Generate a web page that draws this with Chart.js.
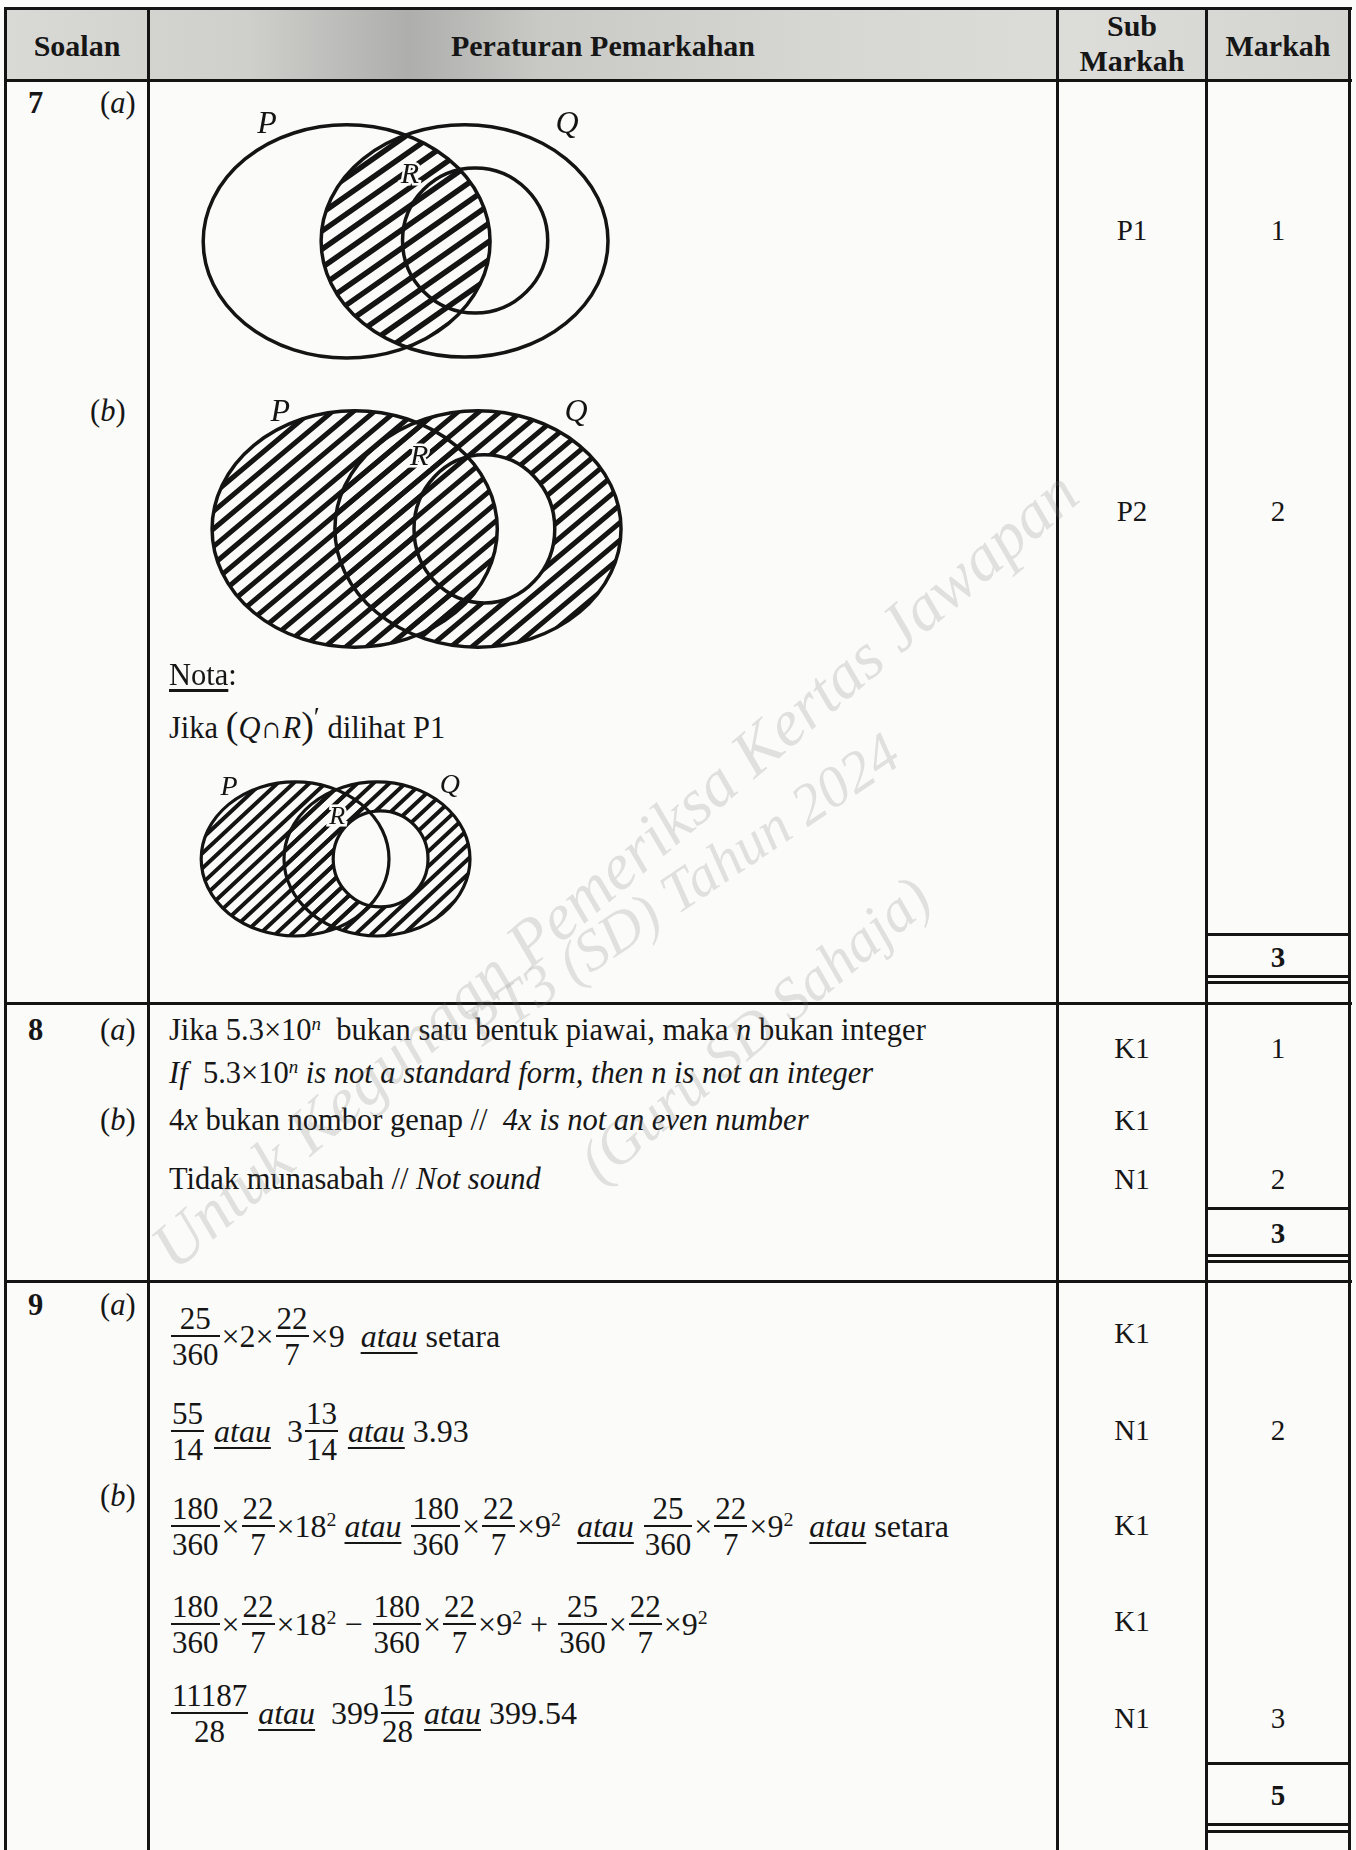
<!DOCTYPE html>
<html>
<head>
<meta charset="utf-8">
<script src="https://cdn.jsdelivr.net/npm/chart.js@4.4.1/dist/chart.umd.min.js"></script>
<style>
body { margin: 0; background: #fff; }
#page { position: relative; width: 1356px; height: 1850px; background: #fbfbf9; overflow: hidden;
  font-family: 'Liberation Serif', 'Times New Roman', serif; color: #161616; }
.hl { position: absolute; height: 3px; background: #141414; }
.vl { position: absolute; width: 3px; background: #141414; top: 7px; height: 1843px; }
.t { position: absolute; font-size: 30.5px; line-height: 34px; white-space: pre; }
.m { position: absolute; font-size: 29px; line-height: 34px; text-align: center; }
.b { font-weight: bold; }
.hd { position: absolute; font-size: 30px; line-height: 34px; font-weight: bold; text-align: center; }
.line { position: absolute; left: 169px; height: 80px; display: flex; align-items: center; font-size: 32px; white-space: pre; }
.line > span { line-height: 34px; }
.fr { display: inline-flex; flex-direction: column; text-align: center; margin: 0 2px; }
.fr span { display: block; font-size: 31px; line-height: 29px; padding: 0 1px; }
.fr .n { padding-bottom: 2px; }
.fr .d { padding-top: 3px; }
.fr b { display: block; height: 2px; background: #161616; }
.u { font-style: italic; text-decoration: underline; text-decoration-thickness: 2px; text-underline-offset: 5px; }
sup { font-size: 62%; position: relative; top: -0.55em; vertical-align: 0; line-height: 0; }
canvas { position: absolute; }
.wm { position: absolute; font-family: 'Liberation Serif', serif; font-style: italic; color: rgba(120, 120, 120, 0.20);
  white-space: nowrap; transform-origin: center center; pointer-events: none; }
</style>
</head>
<body>
<div id="page">
  <div style="position:absolute;left:5px;top:9px;width:1345px;height:71px;
    background:linear-gradient(90deg,#d9d9d6 0%,#cfcfcc 18%,#aeaeac 30%,#c9c9c6 40%,#d6d6d3 60%,#dcdcd9 80%,#d3d3d0 100%);"></div>

  <div class="hl" style="left:4px;top:7px;width:1348px"></div>
  <div class="hl" style="left:4px;top:79px;width:1348px"></div>
  <div class="hl" style="left:4px;top:1002px;width:1348px"></div>
  <div class="hl" style="left:4px;top:1280px;width:1348px"></div>
  <div class="vl" style="left:4px"></div>
  <div class="vl" style="left:147px"></div>
  <div class="vl" style="left:1056px"></div>
  <div class="vl" style="left:1205px"></div>
  <div class="vl" style="left:1348px"></div>

  <div class="hl" style="left:1205px;top:933px;width:146px"></div>
  <div class="hl" style="left:1205px;top:975px;width:146px"></div>
  <div class="hl" style="left:1205px;top:981px;width:146px"></div>
  <div class="hl" style="left:1205px;top:1207px;width:146px"></div>
  <div class="hl" style="left:1205px;top:1254px;width:146px"></div>
  <div class="hl" style="left:1205px;top:1260px;width:146px"></div>
  <div class="hl" style="left:1205px;top:1762px;width:146px"></div>
  <div class="hl" style="left:1205px;top:1823px;width:146px"></div>
  <div class="hl" style="left:1205px;top:1830px;width:146px"></div>

  <div class="hd" style="left:7px;width:140px;top:29px">Soalan</div>
  <div class="hd" style="left:150px;width:906px;top:29px">Peraturan Pemarkahan</div>
  <div class="hd" style="left:1059px;width:146px;top:9px">Sub</div>
  <div class="hd" style="left:1059px;width:146px;top:44px">Markah</div>
  <div class="hd" style="left:1208px;width:140px;top:29px">Markah</div>

  <!-- 7 -->
  <div class="t b" style="left:28px;top:86px">7</div>
  <div class="t" style="left:100px;top:86px">(<i>a</i>)</div>
  <div class="t" style="left:90px;top:394px">(<i>b</i>)</div>
  <canvas id="vennA" width="440" height="270" style="left:190px;top:105px"></canvas>
  <canvas id="vennB" width="460" height="275" style="left:190px;top:390px"></canvas>
  <div class="t" style="left:169px;top:658px"><span style="text-decoration:underline;text-underline-offset:4px">Nota</span>:</div>
  <div class="t" style="left:169px;top:711px">Jika <span style="font-size:38px;line-height:0">(</span><i>Q</i>∩<i>R</i><span style="font-size:38px;line-height:0">)</span><sup style="font-size:90%;top:-0.45em">′</sup> dilihat P1</div>
  <canvas id="vennC" width="300" height="190" style="left:185px;top:765px"></canvas>
  <div class="m" style="left:1059px;width:146px;top:213px">P1</div>
  <div class="m" style="left:1208px;width:140px;top:213px">1</div>
  <div class="m" style="left:1059px;width:146px;top:494px">P2</div>
  <div class="m" style="left:1208px;width:140px;top:494px">2</div>
  <div class="m b" style="left:1208px;width:140px;top:940px">3</div>

  <!-- 8 -->
  <div class="t b" style="left:28px;top:1013px">8</div>
  <div class="t" style="left:100px;top:1013px">(<i>a</i>)</div>
  <div class="t" style="left:169px;top:1013px">Jika 5.3×10<sup><i>n</i></sup>  bukan satu bentuk piawai, maka <i>n</i> bukan integer</div>
  <div class="t" style="left:169px;top:1056px"><i>If</i>  5.3×10<sup><i>n</i></sup> <i>is not a standard form, then n is not an integer</i></div>
  <div class="t" style="left:100px;top:1103px">(<i>b</i>)</div>
  <div class="t" style="left:169px;top:1103px">4<i>x</i> bukan nombor genap //  <i>4x is not an even number</i></div>
  <div class="t" style="left:169px;top:1162px">Tidak munasabah // <i>Not sound</i></div>
  <div class="m" style="left:1059px;width:146px;top:1031px">K1</div>
  <div class="m" style="left:1208px;width:140px;top:1031px">1</div>
  <div class="m" style="left:1059px;width:146px;top:1103px">K1</div>
  <div class="m" style="left:1059px;width:146px;top:1162px">N1</div>
  <div class="m" style="left:1208px;width:140px;top:1162px">2</div>
  <div class="m b" style="left:1208px;width:140px;top:1216px">3</div>

  <!-- 9 -->
  <div class="t b" style="left:28px;top:1288px">9</div>
  <div class="t" style="left:100px;top:1288px">(<i>a</i>)</div>
  <div class="t" style="left:100px;top:1479px">(<i>b</i>)</div>

  <div class="line" style="top:1296px">
    <span class="fr"><span class="n">25</span><b></b><span class="d">360</span></span>
    <span>×2×</span>
    <span class="fr"><span class="n">22</span><b></b><span class="d">7</span></span>
    <span>×9  </span>
    <span class="u">atau</span>
    <span> setara</span>
  </div>
  <div class="line" style="top:1391px">
    <span class="fr"><span class="n">55</span><b></b><span class="d">14</span></span>
    <span> </span>
    <span class="u">atau</span>
    <span>  3</span>
    <span class="fr"><span class="n">13</span><b></b><span class="d">14</span></span>
    <span> </span>
    <span class="u">atau</span>
    <span> 3.93</span>
  </div>
  <div class="line" style="top:1486px">
    <span class="fr"><span class="n">180</span><b></b><span class="d">360</span></span>
    <span>×</span>
    <span class="fr"><span class="n">22</span><b></b><span class="d">7</span></span>
    <span>×18<sup>2</sup> </span>
    <span class="u">atau</span>
    <span> </span>
    <span class="fr"><span class="n">180</span><b></b><span class="d">360</span></span>
    <span>×</span>
    <span class="fr"><span class="n">22</span><b></b><span class="d">7</span></span>
    <span>×9<sup>2</sup>  </span>
    <span class="u">atau</span>
    <span> </span>
    <span class="fr"><span class="n">25</span><b></b><span class="d">360</span></span>
    <span>×</span>
    <span class="fr"><span class="n">22</span><b></b><span class="d">7</span></span>
    <span>×9<sup>2</sup>  </span>
    <span class="u">atau</span>
    <span> setara</span>
  </div>
  <div class="line" style="top:1584px">
    <span class="fr"><span class="n">180</span><b></b><span class="d">360</span></span>
    <span>×</span>
    <span class="fr"><span class="n">22</span><b></b><span class="d">7</span></span>
    <span>×18<sup>2</sup> − </span>
    <span class="fr"><span class="n">180</span><b></b><span class="d">360</span></span>
    <span>×</span>
    <span class="fr"><span class="n">22</span><b></b><span class="d">7</span></span>
    <span>×9<sup>2</sup> + </span>
    <span class="fr"><span class="n">25</span><b></b><span class="d">360</span></span>
    <span>×</span>
    <span class="fr"><span class="n">22</span><b></b><span class="d">7</span></span>
    <span>×9<sup>2</sup></span>
  </div>
  <div class="line" style="top:1673px">
    <span class="fr"><span class="n">11187</span><b></b><span class="d">28</span></span>
    <span> </span>
    <span class="u">atau</span>
    <span>  399</span>
    <span class="fr"><span class="n">15</span><b></b><span class="d">28</span></span>
    <span> </span>
    <span class="u">atau</span>
    <span> 399.54</span>
  </div>

  <div class="m" style="left:1059px;width:146px;top:1316px">K1</div>
  <div class="m" style="left:1059px;width:146px;top:1413px">N1</div>
  <div class="m" style="left:1208px;width:140px;top:1413px">2</div>
  <div class="m" style="left:1059px;width:146px;top:1508px">K1</div>
  <div class="m" style="left:1059px;width:146px;top:1604px">K1</div>
  <div class="m" style="left:1059px;width:146px;top:1701px">N1</div>
  <div class="m" style="left:1208px;width:140px;top:1701px">3</div>
  <div class="m b" style="left:1208px;width:140px;top:1778px">5</div>

  <!-- pencil note across the page -->
  <div class="wm" style="font-size:66px;width:1180px;text-align:center;left:20px;top:835px;transform:rotate(-40.4deg)">Untuk Kegunaan Pemeriksa Kertas Jawapan</div>
  <div class="wm" style="font-size:58px;width:520px;text-align:center;left:422px;top:855px;transform:rotate(-34deg)">PT3 (SD) Tahun 2024</div>
  <div class="wm" style="font-size:60px;width:560px;text-align:center;left:475px;top:995px;transform:rotate(-40deg)">(Guru SD Sahaja)</div>
</div>

<script>
const setNames = ['P', 'Q', 'R'];

// 7(a): centres, radii (x, y) and label spots, in diagram units (x runs 0-100)
const vennACentres = [[35.6, 31.0], [62.4, 30.9], [64.8, 30.8]];
const vennARadii = [[32.6, 26.5], [32.6, 26.4], [16.5, 16.5]];
const vennALabels = [[17.5, 4.5], [85.7, 4.5], [50.0, 15.9]];

// 7(b)
const vennBCentres = [[35.8, 30.2], [62.6, 30.2], [64.0, 30.2]];
const vennBRadii = [[31.0, 25.7], [31.1, 25.7], [15.3, 16.1]];
const vennBLabels = [[19.6, 5.0], [83.9, 5.0], [49.8, 14.6]];

// Nota: (Q ∩ R)'
const vennCCentres = [[36.7, 31.3], [64.0, 31.3], [65.2, 31.3]];
const vennCRadii = [[31.3, 25.7], [31.0, 25.7], [15.8, 16.0]];
const vennCLabels = [[14.7, 7.7], [88.3, 7.0], [50.7, 17.3]];

// shading steps: hatch = intersection of the listed sets, clear = cut out
const vennAShade = [['hatch', ['P', 'Q']]];
const vennBShade = [['hatch', ['P']], ['hatch', ['Q']], ['clear', ['R']], ['hatch', ['P', 'R']]];
const vennCShade = [['hatch', ['P']], ['hatch', ['Q']], ['clear', ['R']]];

function hatch(ctx, area, gap, width, angle) {
    const run = (area.bottom - area.top) / Math.tan(angle * Math.PI / 180);
    ctx.strokeStyle = '#141414';
    ctx.lineWidth = width;
    ctx.beginPath();
    for (let x0 = area.left - run - gap; x0 < area.right + gap; x0 += gap) {
        ctx.moveTo(x0, area.bottom);
        ctx.lineTo(x0 + run, area.top);
    }
    ctx.stroke();
}

const vennPlugin = {
    id: 'venn',
    afterDatasetsDraw(chart, args, opts) {
        const { ctx, chartArea, scales: { x, y } } = chart;
        const shapes = {};
        chart.data.datasets.forEach(ds => {
            const c = ds.data[0];
            const px = x.getPixelForValue(c.x);
            const py = y.getPixelForValue(c.y);
            shapes[ds.label] = {
                px, py,
                rx: Math.abs(x.getPixelForValue(c.x + ds.radii[0]) - px),
                ry: Math.abs(y.getPixelForValue(c.y + ds.radii[1]) - py)
            };
        });
        const path = s => {
            ctx.beginPath();
            ctx.ellipse(s.px, s.py, s.rx, s.ry, 0, 0, Math.PI * 2);
        };

        opts.shade.forEach(([kind, names]) => {
            ctx.save();
            names.forEach(n => { path(shapes[n]); ctx.clip(); });
            if (kind === 'clear') {
                ctx.globalCompositeOperation = 'destination-out';
                ctx.fillStyle = '#000';
                ctx.fillRect(chartArea.left, chartArea.top, chartArea.width, chartArea.height);
            } else {
                hatch(ctx, chartArea, opts.gap, opts.hatchWidth, opts.angle);
            }
            ctx.restore();
        });

        ctx.save();
        ctx.strokeStyle = '#141414';
        ctx.lineWidth = opts.outline;
        Object.values(shapes).forEach(s => { path(s); ctx.stroke(); });

        ctx.textAlign = 'center';
        ctx.textBaseline = 'middle';
        chart.data.datasets.forEach(ds => {
            const lx = x.getPixelForValue(ds.labelAt[0]);
            const ly = y.getPixelForValue(ds.labelAt[1]);
            const small = ds.label === 'R';
            ctx.font = 'italic ' + (small ? opts.labelSize - 2 : opts.labelSize) + 'px "Liberation Serif"';
            if (small) {
                ctx.lineWidth = 5;
                ctx.strokeStyle = '#fbfbf9';
                ctx.strokeText(ds.label, lx, ly);
            }
            ctx.fillStyle = '#141414';
            ctx.fillText(ds.label, lx, ly);
        });
        ctx.restore();
    }
};

function vennChart(id, centres, radii, labels, shade, yMax, style) {
    const datasets = setNames.map((name, i) => ({
        label: name,
        data: [{ x: centres[i][0], y: centres[i][1] }],
        radii: radii[i],
        labelAt: labels[i],
        pointRadius: 0
    }));
    return new Chart(document.getElementById(id), {
        type: 'scatter',
        data: { datasets },
        options: {
            responsive: false,
            animation: false,
            events: [],
            layout: { padding: 0 },
            scales: {
                x: { display: false, min: 0, max: 100 },
                y: { display: false, min: 0, max: yMax, reverse: true }
            },
            plugins: {
                legend: { display: false },
                tooltip: { enabled: false },
                venn: Object.assign({ shade }, style)
            }
        },
        plugins: [vennPlugin]
    });
}

vennChart('vennA', vennACentres, vennARadii, vennALabels, vennAShade, 270 / 4.4,
    { gap: 26, hatchWidth: 5.5, angle: 35, outline: 3.5, labelSize: 32 });
vennChart('vennB', vennBCentres, vennBRadii, vennBLabels, vennBShade, 275 / 4.6,
    { gap: 21, hatchWidth: 5, angle: 40, outline: 3.5, labelSize: 32 });
vennChart('vennC', vennCCentres, vennCRadii, vennCLabels, vennCShade, 190 / 3,
    { gap: 16, hatchWidth: 4, angle: 43, outline: 3.2, labelSize: 28 });
</script>
</body>
</html>
